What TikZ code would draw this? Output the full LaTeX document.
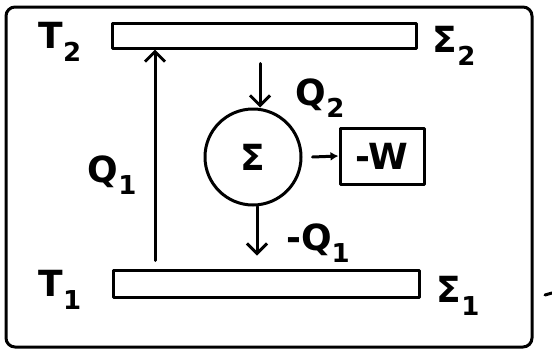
\documentclass[tikz,border=0pt]{standalone}
\usepackage{fontspec}
\setmainfont{DejaVu Sans}
\usetikzlibrary{arrows.meta}
\newcommand\lbsub[1]{\raisebox{-0.35em}{\fontsize{26}{26}\selectfont #1}}
\begin{document}
\begin{tikzpicture}[x=1pt,y=-1pt, line width=3pt, line cap=round, line join=round,
  res/.style={draw, rectangle, inner sep=0pt},
  framebox/.style={draw, rectangle, rounded corners=9pt, inner sep=0pt},
  lbl/.style={font=\fontsize{36}{40}\selectfont\bfseries, inner sep=0pt},
  arr/.style={-{Straight Barb[length=10pt,width=20pt]}},
  arrsmall/.style={-{Latex[length=8pt,width=9pt]}}]
\useasboundingbox (0,0) rectangle (552,351);
% frame
\node[framebox, minimum width=526pt, minimum height=340pt] (F) at (269,177) {};
% reservoirs
\node[res, minimum width=304pt, minimum height=25pt] (R2) at (264,35.5) {};
\node[res, minimum width=306pt, minimum height=27pt] (R1) at (266,283.5) {};
% engine
\node[draw, circle, minimum size=96pt, inner sep=0pt, lbl] (S) at (253,157) {Σ};
\node[draw, rectangle, minimum width=84pt, minimum height=56pt, inner sep=0pt, lbl] (W) at (382,156) {-W};
% coordinates for arrow x positions
\coordinate (q1x) at (155,0);
\coordinate (q2x) at (260,0);
\coordinate (mq1x) at (257,0);
% arrows
\draw[arr] ([yshift=8pt]R1.north -| q1x) -- (R2.south -| q1x);
\draw[arr] ([yshift=-14pt]R2.south -| q2x) -- (S.north -| q2x);
\draw[arr] (S.south -| mq1x) -- ([yshift=13pt]R1.north -| mq1x);
\draw[arrsmall] ([xshift=10pt]S.east) -- (W.west);
% labels
\node[lbl] (T2) at (60,42) {T\lbsub{2}};
\node[lbl] (S2) at (454,46) {Σ\lbsub{2}};
\node[lbl] (T1) at (60,290) {T\lbsub{1}};
\node[lbl] (S1) at (458,296) {Σ\lbsub{1}};
\node[lbl] (Q2) at (320,98) {Q\lbsub{2}};
\node[lbl] (Q1) at (112,175) {Q\lbsub{1}};
\node[lbl] (MQ1) at (318,243) {-Q\lbsub{1}};
% stray stroke at right edge
\draw (545,295) -- (552,293);
\end{tikzpicture}
\end{document}
